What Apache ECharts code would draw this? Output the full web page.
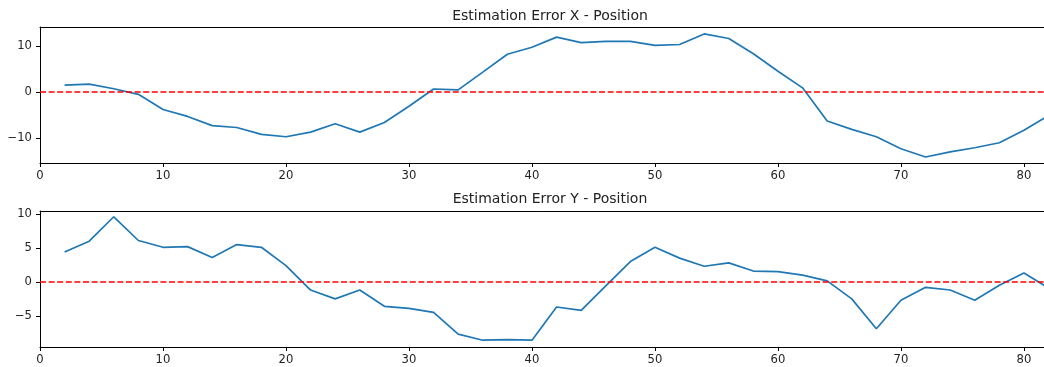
<!DOCTYPE html>
<html>
<head>
<meta charset="utf-8">
<script src="https://cdn.jsdelivr.net/npm/echarts@6/dist/echarts.min.js"></script>
<style>
  html, body { margin: 0; padding: 0; background: #fff; }
  #chart { width: 1044px; height: 367px; }
</style>
</head>
<body>
<div id="chart"></div>
<script>
// time steps (x axis)
const steps = [2, 4, 6, 8, 10, 12, 14, 16, 18, 20, 22, 24, 26, 28, 30, 32, 34, 36, 38, 40,
  42, 44, 46, 48, 50, 52, 54, 56, 58, 60, 62, 64, 66, 68, 70, 72, 74, 76, 78, 80, 82];

// estimation error in x position
const errorX = [1.5, 1.7, 0.7, -0.5, -3.8, -5.3, -7.3, -7.7, -9.2, -9.7, -8.7, -6.9, -8.7, -6.6,
  -3.1, 0.65, 0.45, 4.3, 8.2, 9.7, 11.9, 10.7, 11.0, 11.0, 10.1, 10.3, 12.6, 11.6, 8.3, 4.5,
  0.9, -6.3, -8.1, -9.7, -12.3, -14.1, -13.0, -12.1, -11.0, -8.3, -5.1];

// estimation error in y position
const errorY = [4.4, 6.0, 9.6, 6.1, 5.1, 5.2, 3.6, 5.5, 5.1, 2.4, -1.2, -2.5, -1.2, -3.6,
  -3.9, -4.5, -7.7, -8.6, -8.5, -8.6, -3.7, -4.2, -0.6, 3.0, 5.1, 3.5, 2.3, 2.8, 1.6, 1.5,
  1.0, 0.15, -2.5, -6.9, -2.7, -0.8, -1.2, -2.7, -0.5, 1.3, -0.9];

// tick labels
const xTicks = [0, 10, 20, 30, 40, 50, 60, 70, 80];
const yTicksX = [-10, 0, 10];
const yTicksY = [-5, 0, 5, 10];

const titles = ['Estimation Error X - Position', 'Estimation Error Y - Position'];

const font = 'DejaVu Sans';
const xMax = 81.63; // the axes run past the right edge of the window
const minus = (v) => String(v).replace('-', '\u2212');

function makeXAxis(i) {
  return {
    type: 'value', gridIndex: i, min: 0, max: xMax,
    axisLine: { show: true, onZero: false, lineStyle: { color: '#000', width: 1 } },
    axisTick: { show: true, length: 4, customValues: xTicks, lineStyle: { color: '#000' } },
    axisLabel: { customValues: xTicks, margin: 7, color: '#222', fontFamily: font, fontSize: 11.6 },
    splitLine: { show: false },
  };
}

// top spine only
function makeTopAxis(i) {
  return {
    type: 'value', gridIndex: i, position: 'top', min: 0, max: xMax,
    axisLine: { show: true, onZero: false, lineStyle: { color: '#000', width: 1 } },
    axisTick: { show: false }, axisLabel: { show: false }, splitLine: { show: false },
  };
}

function makeYAxis(i, min, max, ticks) {
  return {
    type: 'value', gridIndex: i, min: min, max: max,
    axisLine: { show: true, lineStyle: { color: '#000', width: 1 } },
    axisTick: { show: true, length: 4, customValues: ticks, lineStyle: { color: '#000' } },
    axisLabel: { customValues: ticks, margin: 8, color: '#222', fontFamily: font, fontSize: 11.6, formatter: minus },
    splitLine: { show: false },
  };
}

function makeSeries(i, values) {
  return {
    type: 'line', xAxisIndex: i, yAxisIndex: i,
    data: steps.map((s, k) => [s, values[k]]),
    showSymbol: false, clip: true, animation: false,
    lineStyle: { color: '#1f77b4', width: 1.7 },
    markLine: {
      silent: true, symbol: 'none', animation: false,
      label: { show: false },
      lineStyle: { color: '#ff0000', type: [6, 2.6], width: 1.6 },
      data: [{ yAxis: 0 }],
    },
  };
}

const chart = echarts.init(document.getElementById('chart'));
chart.setOption({
  animation: false,
  title: [
    { text: titles[0], left: 545, top: 4, textAlign: 'center',
      textStyle: { fontFamily: font, fontSize: 14, fontWeight: 'normal', color: '#222' } },
    { text: titles[1], left: 545, top: 187, textAlign: 'center',
      textStyle: { fontFamily: font, fontSize: 14, fontWeight: 'normal', color: '#222' } },
  ],
  grid: [
    { left: 40, right: 0, top: 27, height: 136 },
    { left: 40, right: 0, top: 211, height: 136 },
  ],
  xAxis: [makeXAxis(0), makeXAxis(1), makeTopAxis(0), makeTopAxis(1)],
  yAxis: [makeYAxis(0, -15.4, 14.1, yTicksX), makeYAxis(1, -9.6, 10.45, yTicksY)],
  series: [makeSeries(0, errorX), makeSeries(1, errorY)],
});
</script>
</body>
</html>
